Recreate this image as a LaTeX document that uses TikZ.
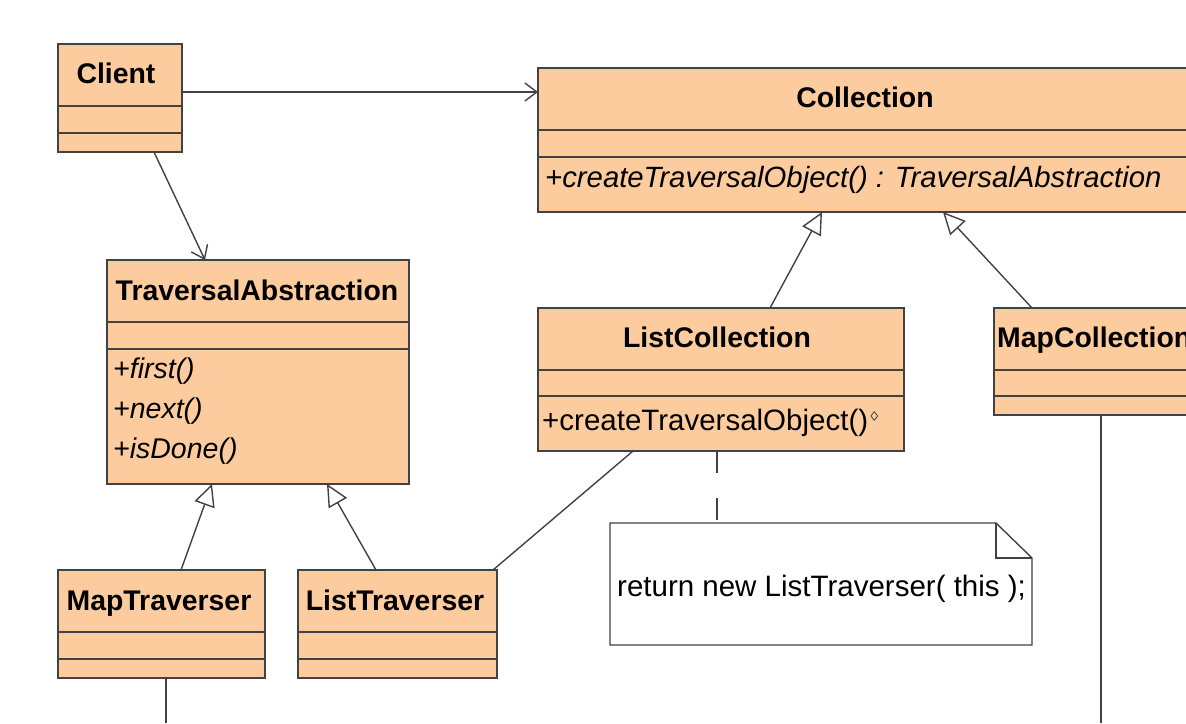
\documentclass[tikz,border=0pt]{standalone}
\usepackage{fontspec}
\setmainfont{Liberation Sans}
\usetikzlibrary{arrows.meta,shapes.geometric}
\definecolor{classfill}{RGB}{252,204,158}
\definecolor{edgegray}{RGB}{66,66,66}

\begin{document}
\begin{tikzpicture}[x=1pt,y=-1pt,
  classbox/.style={draw=edgegray, line width=1.8pt, fill=classfill, rectangle,
    anchor=north west, inner sep=0pt, outer sep=0pt},
  notebox/.style={rectangle, anchor=north west, inner sep=0pt, outer sep=0pt},
  divider/.style={draw=edgegray, line width=1.8pt},
  ctitle/.style={font=\fontsize{28.4}{34}\selectfont\bfseries, inner sep=0pt, text=black, anchor=base},
  op/.style={font=\fontsize{28.5}{34}\selectfont\itshape, inner sep=0pt, anchor=base west, text=black},
  plainop/.style={font=\fontsize{29.5}{34}\selectfont, inner sep=0pt, anchor=base west, text=black},
  link/.style={draw=edgegray, line width=1.4pt},
  dep/.style={link, -{Straight Barb[length=12pt, width=18pt, line width=1.4pt]}},
  gen/.style={link, -{Triangle[open, length=22pt, width=21pt, line width=1.4pt]}},
  anchorline/.style={link, dash pattern=on 22pt off 25pt}
]
\useasboundingbox (0,0) rectangle (1186,723);
\clip (0,0) rectangle (1186,723);
\fill[white] (0,0) rectangle (1186,723);

% class boxes
\node[classbox, minimum width=124pt, minimum height=108pt] (client) at (58,44) {};
\node[classbox, minimum width=700pt, minimum height=144pt] (coll) at (538,68) {};
\node[classbox, minimum width=302pt, minimum height=224pt] (ta) at (107,260) {};
\node[classbox, minimum width=366pt, minimum height=143pt] (lc) at (538,308) {};
\node[classbox, minimum width=250pt, minimum height=107pt] (mc) at (994,308) {};
\node[classbox, minimum width=207pt, minimum height=108pt] (mt) at (58,570) {};
\node[classbox, minimum width=199pt, minimum height=108pt] (lt) at (298,570) {};

% compartment dividers
\foreach \b/\da/\db in {client/62/89, coll/62/89, ta/62/89, lc/62/88, mc/62/88, mt/62/89, lt/62/89}{
  \draw[divider] ([yshift=-\da pt]\b.north west) -- ([yshift=-\da pt]\b.north east);
  \draw[divider] ([yshift=-\db pt]\b.north west) -- ([yshift=-\db pt]\b.north east);
}

% class names
\node[ctitle] (clientname) at (116,83) {Client};
\node[ctitle] (collname) at (865,107) {Collection};
\node[ctitle] (taname) at (257,300) {TraversalAbstraction};
\node[ctitle] (lcname) at (717,347) {ListCollection};
\node[ctitle, anchor=base west] (mcname) at (997,347) {MapCollection};
\node[ctitle] (mtname) at (159,610) {MapTraverser};
\node[ctitle] (ltname) at (395,610) {ListTraverser};

% operations
\node[op, font=\fontsize{29.3}{34}\selectfont\itshape] (collop) at (545,187) {+createTraversalObject() : TraversalAbstraction};
\node[op] (taop1) at (113,378) {+first()};
\node[op] (taop2) at (113,418) {+next()};
\node[op] (taop3) at (113,458) {+isDone()};
\node[plainop] (lcop) at (542,430) {+createTraversalObject()};
\node[diamond, draw=edgegray, line width=0.8pt, inner sep=0pt, minimum width=7pt,
  minimum height=9pt, anchor=west] (lcmark) at ([xshift=2pt]lcop.east |- 0,416) {};

% note attached to ListCollection
\node[notebox, minimum width=422pt, minimum height=122pt] (note) at (610,523) {};
\draw[link, fill=white] (note.north west) -- ([xshift=-36pt]note.north east)
  -- ([yshift=-35pt]note.north east) -- (note.south east) -- (note.south west) -- cycle;
\draw[link] ([xshift=-36pt]note.north east) -- ([xshift=-36pt,yshift=-35pt]note.north east)
  -- ([yshift=-35pt]note.north east);
\node[plainop] (notetext) at (617,596) {return new ListTraverser( this );};

% connectors
\coordinate (mcend) at (1101,723);
\coordinate (mtend) at (166,723);
\draw[dep] ([yshift=-48pt]client.north east) -- ([yshift=-24pt]coll.north west);
\draw[dep] ([xshift=96pt]client.south west) -- ([xshift=98pt]ta.north west);
\draw[gen] ([xshift=232pt]lc.north west) -- ([xshift=284pt]coll.south west);
\draw[gen] ([xshift=38pt]mc.north west) -- ([xshift=405pt]coll.south west);
\draw[gen] ([xshift=123pt]mt.north west) -- ([xshift=105pt]ta.south west);
\draw[gen] ([xshift=78pt]lt.north west) -- ([xshift=220pt]ta.south west);
\draw[link] ([xshift=-4pt]lt.north east) -- ([xshift=95pt]lc.south west);
\draw[anchorline] ([xshift=179pt]lc.south west) -- ([xshift=107pt]note.north west);
\draw[link] ([xshift=107pt]mc.south west) -- (mcend);
\draw[link] ([xshift=108pt]mt.south west) -- (mtend);
\end{tikzpicture}
\end{document}
